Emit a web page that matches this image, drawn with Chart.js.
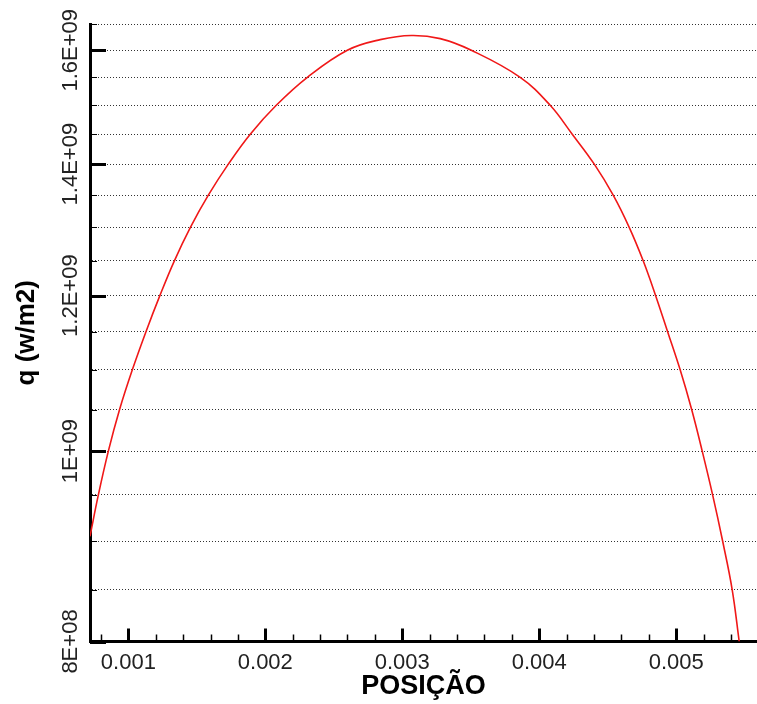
<!DOCTYPE html>
<html lang="pt">
<head>
  <meta charset="UTF-8">
  <title>q (w/m2) x POSIÇÃO</title>
  <script src="https://cdn.jsdelivr.net/npm/chart.js@4"></script>
  <style>
    * { margin: 0; padding: 0; box-sizing: border-box; }
    body { background: #fff; }
    #wrap { width: 757px; height: 704px; }
  </style>
</head>
<body>
  <div id="wrap"><canvas id="chart" width="757" height="704"></canvas></div>

  <script>
    // Posição (m) e fluxo q (W/m2)
    const posicao = [0.00072, 0.000781, 0.000854, 0.000936, 0.001029, 0.001128, 0.00123, 0.001336,
      0.001453, 0.001584, 0.00173, 0.00189, 0.00208, 0.002307, 0.002599, 0.002839, 0.003066,
      0.003277, 0.003504, 0.003861, 0.00408, 0.004241, 0.004402, 0.00454, 0.004657,
      0.004759, 0.00485, 0.004938, 0.005029, 0.005113, 0.00519, 0.005266, 0.005339, 0.005409, 0.00546];
    const qValues = [0.905e9, 0.95e9, 1.0e9, 1.05e9, 1.1e9, 1.15e9, 1.2e9, 1.25e9,
      1.3e9, 1.35e9, 1.4e9, 1.45e9, 1.5e9, 1.55e9, 1.6e9, 1.62e9, 1.628e9,
      1.622e9, 1.6e9, 1.55e9, 1.5e9, 1.45e9, 1.4e9, 1.35e9, 1.3e9,
      1.25e9, 1.2e9, 1.15e9, 1.1e9, 1.05e9, 1.0e9, 0.95e9, 0.9e9, 0.85e9, 0.8e9];

    // Eixos
    const xMin = 0.00072, xMax = 0.00559;
    const yMin = 8e8, yMax = 1.65e9;
    const xMajorValues = [0.001, 0.002, 0.003, 0.004, 0.005];
    const xTickLabels = ['0.001', '0.002', '0.003', '0.004', '0.005'];
    const yMajorValues = [8e8, 1e9, 1.2e9, 1.4e9, 1.6e9];
    const yTickLabels = ['8E+08', '1E+09', '1.2E+09', '1.4E+09', '1.6E+09'];
    const xMinorStep = 0.0002, yMinorStep = 0.05e9;

    const fontFamily = '"Liberation Sans", Arial, sans-serif';

    function majorIndex(list, v) {
      return list.findIndex(m => Math.abs(m - v) < Math.abs(m) * 1e-6);
    }

    function stepTicks(min, max, step) {
      const out = [];
      for (let i = Math.ceil(min / step - 1e-6); i * step <= max + step * 1e-6; i++) {
        out.push({ value: Number((i * step).toPrecision(6)) });
      }
      return out;
    }

    // ticks para dentro, como no original
    const inwardTicks = {
      id: 'inwardTicks',
      afterDatasetsDraw(chart) {
        const { ctx, chartArea, scales: { x, y } } = chart;
        ctx.save();
        ctx.strokeStyle = '#000';
        y.ticks.forEach(t => {
          const major = majorIndex(yMajorValues, t.value) >= 0;
          const py = Math.round(y.getPixelForValue(t.value)) + 0.5;
          ctx.lineWidth = major ? 3 : 1;
          ctx.beginPath();
          ctx.moveTo(chartArea.left, py);
          ctx.lineTo(chartArea.left + (major ? 16 : 7), py);
          ctx.stroke();
        });
        x.ticks.forEach(t => {
          const major = majorIndex(xMajorValues, t.value) >= 0;
          const px = Math.round(x.getPixelForValue(t.value)) + 0.5;
          ctx.lineWidth = major ? 3 : 1.5;
          ctx.beginPath();
          ctx.moveTo(px, chartArea.bottom);
          ctx.lineTo(px, chartArea.bottom - (major ? 13 : 7));
          ctx.stroke();
        });
        ctx.restore();
      }
    };

    const points = posicao.map((p, i) => ({ x: p, y: qValues[i] }));

    new Chart(document.getElementById('chart'), {
      type: 'line',
      data: {
        datasets: [{
          data: points,
          borderColor: '#f01818',
          borderWidth: 1.6,
          pointRadius: 0,
          tension: 0.4,
          fill: false
        }]
      },
      options: {
        responsive: false,
        animation: false,
        layout: { padding: { top: 24, right: 0, bottom: 0, left: 0 } },
        plugins: { legend: { display: false }, tooltip: { enabled: false } },
        scales: {
          x: {
            type: 'linear',
            min: xMin,
            max: xMax,
            afterBuildTicks: s => { s.ticks = stepTicks(xMin, xMax, xMinorStep); },
            afterFit: s => { s.height = 62.5; },
            grid: { drawOnChartArea: false, drawTicks: false },
            border: { display: true, width: 3, color: '#000' },
            ticks: {
              autoSkip: false,
              maxRotation: 0,
              padding: 8,
              color: '#222',
              font: { family: fontFamily, size: 22 },
              callback: v => { const i = majorIndex(xMajorValues, v); return i >= 0 ? xTickLabels[i] : ''; }
            },
            title: {
              display: true,
              text: 'POSIÇÃO',
              color: '#000',
              font: { family: fontFamily, size: 27, weight: 'bold' },
              padding: { top: 0, bottom: 1 }
            }
          },
          y: {
            type: 'logarithmic',
            min: yMin,
            max: yMax,
            afterBuildTicks: s => { s.ticks = stepTicks(yMin, yMax, yMinorStep); },
            afterFit: s => { s.width = 90; },
            grid: { drawTicks: false, color: '#333', lineWidth: 1 },
            border: { display: true, width: 3, color: '#000', dash: [1, 2] },
            ticks: {
              autoSkip: false,
              minRotation: 90,
              maxRotation: 90,
              crossAlign: 'center',
              padding: -22,
              color: '#222',
              font: { family: fontFamily, size: 22 },
              callback: v => { const i = majorIndex(yMajorValues, v); return i >= 0 ? yTickLabels[i] : ''; }
            },
            title: {
              display: true,
              text: 'q (w/m2)',
              color: '#000',
              font: { family: fontFamily, size: 26, weight: 'bold' },
              padding: { top: 11, bottom: 0 }
            }
          }
        }
      },
      plugins: [inwardTicks]
    });
  </script>
</body>
</html>
